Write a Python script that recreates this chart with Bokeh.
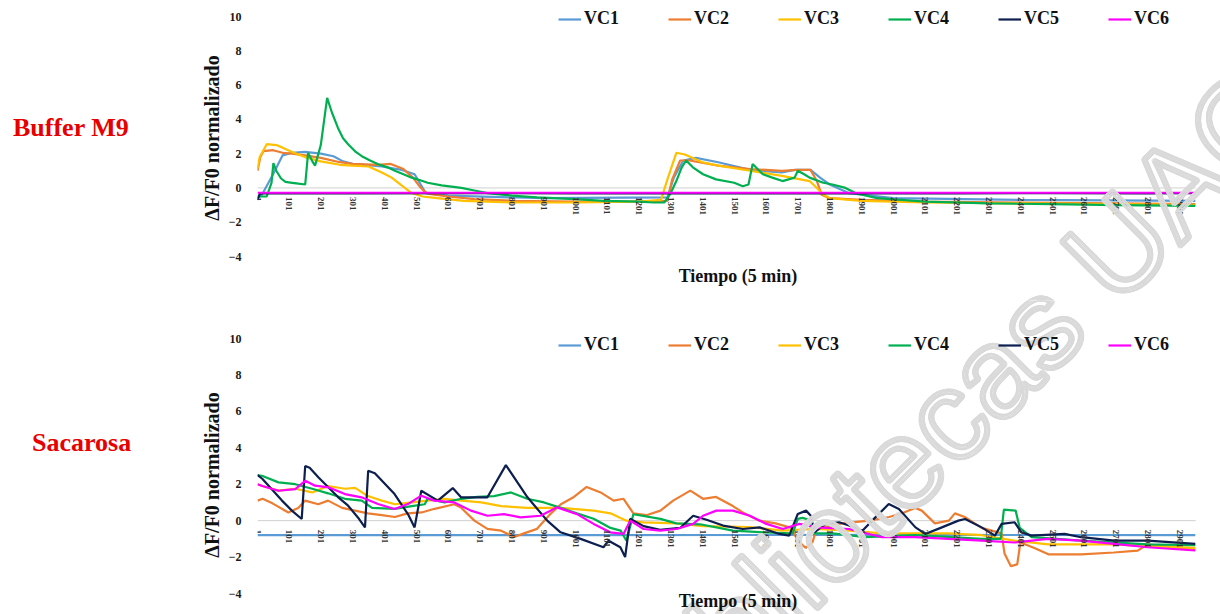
from bokeh.plotting import figure
from bokeh.models import Range1d, FixedTicker, Label, Div
from bokeh.layouts import column, row
from bokeh.embed import file_html
from bokeh.resources import INLINE
import math

# ---------------- data ----------------
series_names = ["VC1", "VC2", "VC3", "VC4", "VC5", "VC6"]
series_colors = ["#5b9bd5", "#ed7d31", "#ffc000", "#00b050", "#0d1f4f", "#ff00ff"]
y_ticks = [-4, -2, 0, 2, 4, 6, 8, 10]
x_tick_positions = list(range(1, 2951, 100))
panel_labels = ["Buffer M9", "Sacarosa"]
x_title = "Tiempo (5 min)"
y_title = "ΔF/F0 normalizado"

# Buffer M9 panel
buf_vc1_x = [1, 15, 50, 80, 110, 150, 200, 240, 270, 300, 392, 455, 495, 530, 600, 900, 1290, 1310, 1340, 1380, 1450, 1550, 1650, 1690, 1740, 1770, 1800, 1860, 2000, 2400, 2950]
buf_vc1_y = [-0.6, -0.4, 0.8, 1.9, 2.05, 2.1, 2.0, 1.85, 1.55, 1.4, 1.25, 1.05, 0.8, -0.3, -0.45, -0.6, -0.55, 0.6, 1.6, 1.75, 1.5, 1.05, 0.9, 1.05, 1.05, 0.6, 0.2, -0.3, -0.6, -0.7, -0.75]

buf_vc2_x = [1, 10, 20, 50, 80, 110, 150, 200, 260, 300, 380, 420, 460, 490, 510, 526, 540, 600, 683, 800, 1000, 1200, 1290, 1305, 1330, 1360, 1450, 1550, 1650, 1700, 1740, 1760, 1775, 1800, 1900, 2100, 2400, 2700, 2950]
buf_vc2_y = [1.0, 1.8, 2.15, 2.2, 2.05, 2.0, 1.9, 1.75, 1.5, 1.4, 1.35, 1.4, 1.1, 0.6, 0.1, -0.2, -0.35, -0.5, -0.65, -0.75, -0.8, -0.8, -0.75, 0.5, 1.6, 1.6, 1.3, 1.1, 1.0, 1.05, 1.05, 0.4, -0.4, -0.6, -0.7, -0.8, -0.85, -0.9, -0.95]

buf_vc3_x = [1, 8, 30, 60, 80, 110, 150, 200, 260, 300, 350, 392, 423, 464, 486, 520, 567, 650, 800, 1000, 1200, 1270, 1290, 1318, 1345, 1400, 1450, 1550, 1650, 1737, 1760, 1778, 1800, 1900, 2100, 2400, 2700, 2950]
buf_vc3_y = [1.15, 1.8, 2.55, 2.5, 2.35, 2.1, 1.8, 1.55, 1.35, 1.3, 1.25, 0.9, 0.6, 0.0, -0.3, -0.5, -0.6, -0.75, -0.85, -0.85, -0.8, -0.7, 0.5, 2.05, 1.95, 1.5, 1.3, 1.0, 0.7, 0.4, 0.0, -0.35, -0.6, -0.75, -0.85, -0.9, -0.95, -1.0]

buf_vc4_x = [1, 30, 45, 51, 60, 75, 89, 110, 130, 151, 155, 160, 175, 182, 200, 220, 235, 254, 270, 286,
             310, 329, 355, 379, 410, 433, 460, 486, 520, 536, 580, 642, 683, 724, 800, 880, 1000, 1090, 1200, 1246,
             1280, 1299, 1318, 1335, 1349, 1370, 1402, 1443, 1500, 1527, 1545, 1558, 1590, 1620, 1652, 1690, 1700, 1720, 1737, 1780,
             1809, 1850, 1881, 1950, 2100, 2300, 2500, 2700, 2950]
buf_vc4_y = [-0.5, -0.5, 0.3, 1.45, 1.0, 0.55, 0.35, 0.3, 0.25, 0.2, 1.0, 2.05, 1.5, 1.3, 2.5, 5.25, 4.4, 3.5, 2.9, 2.55,
             2.1, 1.85, 1.6, 1.4, 1.2, 1.0, 0.8, 0.6, 0.4, 0.3, 0.15, 0.0, -0.15, -0.3, -0.45, -0.55, -0.65, -0.75, -0.8, -0.85,
             -0.85, -0.35, 0.4, 1.2, 1.6, 1.2, 0.8, 0.5, 0.3, 0.1, 0.2, 1.4, 0.8, 0.6, 0.4, 0.6, 1.0, 0.8, 0.6, 0.3,
             0.2, 0.0, -0.3, -0.6, -0.8, -0.9, -0.95, -1.0, -1.05]

buf_vc5_x = [1, 8, 20, 300, 700, 1000, 1300, 1600, 1900, 2200, 2500, 2800, 2950]
buf_vc5_y = [-0.7, -0.35, -0.3, -0.32, -0.3, -0.32, -0.3, -0.32, -0.3, -0.32, -0.3, -0.32, -0.3]

buf_vc6_x = [1, 2950]
buf_vc6_y = [-0.28, -0.28]

# Sacarosa panel
sac_vc1_x = [1, 1000, 2000, 2950]
sac_vc1_y = [-0.8, -0.8, -0.78, -0.8]

sac_vc2_x = [1, 17, 48, 98, 129, 151, 192, 223, 267, 308, 348, 392, 433, 473, 517, 558, 620, 642, 683, 724,
             767, 808, 839, 880, 924, 955, 996, 1036, 1080, 1121, 1152, 1183, 1224, 1268, 1308, 1362, 1402, 1443, 1496, 1527,
             1580, 1630, 1680, 1700, 1725, 1746, 1760, 1778, 1840, 1925, 1987, 2028, 2069, 2090, 2131, 2175, 2194, 2225, 2278, 2341,
             2350, 2370, 2390, 2400, 2444, 2488, 2591, 2694, 2769, 2800, 2904, 2950]
sac_vc2_y = [1.1, 1.2, 0.95, 0.45, 0.7, 1.1, 0.9, 1.1, 0.7, 0.55, 0.4, 0.3, 0.2, 0.4, 0.45, 0.65, 0.9, 0.7, 0.0, -0.45,
             -0.55, -0.9, -0.7, -0.45, 0.4, 0.9, 1.3, 1.85, 1.55, 1.1, 1.2, 0.4, 0.3, 0.55, 1.1, 1.65, 1.2, 1.3, 0.8, 0.45,
             0.0, -0.15, -0.4, -1.1, -1.5, -1.2, -0.4, -0.35, -0.15, 0.0, 0.2, 0.4, 0.7, 0.55, -0.15, 0.0, 0.4, 0.2, -0.4, -0.7,
             -1.8, -2.5, -2.4, -1.2, -1.5, -1.85, -1.85, -1.75, -1.65, -1.3, -1.5, -1.55]

sac_vc3_x = [1, 17, 67, 120, 173, 223, 276, 308, 348, 392, 433, 486, 536, 589, 642, 705, 767, 849, 955, 1058,
             1111, 1161, 1215, 1318, 1402, 1549, 1652, 1756, 1862, 1965, 2175, 2278, 2381, 2488, 2694, 2800, 2950]
sac_vc3_y = [2.0, 1.9, 1.65, 1.75, 1.55, 1.9, 1.75, 1.8, 1.35, 1.1, 0.9, 1.0, 1.1, 1.2, 1.1, 1.0, 0.8, 0.7, 0.7, 0.55,
             0.4, 0.0, -0.1, -0.15, -0.3, -0.35, -0.55, -0.45, -0.55, -0.7, -0.7, -0.8, -1.1, -1.3, -1.3, -1.4, -1.5]

sac_vc4_x = [1, 17, 67, 120, 173, 223, 276, 329, 361, 433, 486, 527, 536, 589, 642, 692, 745, 798, 849, 902,
             955, 1005, 1058, 1111, 1143, 1161, 1183, 1268, 1318, 1393, 1496, 1599, 1684, 1700, 1715, 1735, 1746, 1809, 1912, 2069,
             2278, 2338, 2348, 2385, 2398, 2435, 2591, 2800, 2950]
sac_vc4_y = [2.5, 2.45, 2.1, 2.0, 1.75, 1.5, 1.2, 1.1, 0.7, 0.65, 0.8, 0.9, 1.2, 1.0, 1.2, 1.3, 1.35, 1.55, 1.2, 1.0,
             0.7, 0.4, 0.1, -0.4, -0.55, -1.1, 0.35, 0.1, -0.15, -0.2, -0.55, -0.65, -0.7, 0.1, 0.15, 0.05, -0.7, -0.7, -0.9, -0.8,
             -1.0, -1.0, 0.6, 0.55, -0.4, -0.9, -1.1, -1.3, -1.35]

sac_vc5_x = [1, 16, 78, 109, 140, 151, 165, 193, 255, 286, 320, 339, 349, 370, 432, 474, 495, 516, 568, 615,
             641, 724, 782, 850, 912, 954, 1017, 1089, 1105, 1142, 1157, 1173, 1215, 1267, 1330, 1371, 1413, 1465, 1527, 1580,
             1642, 1673, 1700, 1726, 1741, 1752, 1788, 1830, 1861, 1903, 1944, 1986, 2018, 2070, 2101, 2153, 2205, 2226, 2278, 2320,
             2341, 2382, 2403, 2435, 2539, 2591, 2695, 2800, 2950]
sac_vc5_y = [2.5, 2.3, 1.1, 0.55, 0.09, 3.0, 2.9, 2.37, 1.28, 0.82, 0.1, -0.37, 2.74, 2.6, 1.46, 0.36, -0.37, 1.64, 1.1, 1.79,
             1.28, 1.28, 3.05, 1.28, 0.0, -0.64, -1.0, -1.46, -1.1, -1.46, -2.0, 0.1, -0.3, -0.5, -0.4, 0.27, 0.05, -0.27, -0.46, -0.37,
             -0.73, -0.82, 0.37, 0.55, 0.27, -0.64, -0.18, -0.09, -0.27, -0.55, 0.18, 0.91, 0.64, -0.37, -0.73, -0.37, 0.0, 0.09, -0.37, -0.82,
             -0.18, -0.09, -0.64, -0.82, -0.73, -0.91, -1.1, -1.1, -1.28]

sac_vc6_x = [1, 16, 67, 120, 151, 182, 224, 276, 328, 380, 432, 474, 516, 557, 620, 672, 724, 776, 828, 891,
             943, 1006, 1058, 1110, 1152, 1173, 1215, 1267, 1319, 1371, 1402, 1444, 1496, 1549, 1601, 1653, 1705, 1757, 1861, 1965,
             2070, 2174, 2278, 2382, 2486, 2591, 2695, 2800, 2950]
sac_vc6_y = [2.0, 1.9, 1.64, 1.73, 2.19, 1.92, 1.83, 1.46, 1.28, 0.91, 0.64, 0.91, 1.37, 1.1, 1.0, 0.55, 0.27, 0.36, 0.18, 0.27,
             0.73, 0.36, -0.18, -0.64, -0.73, 0.0, -0.46, -0.55, -0.46, -0.18, 0.27, 0.55, 0.55, 0.27, -0.18, -0.46, -0.18, -0.37, -0.46, -0.91,
             -0.91, -1.0, -1.1, -1.2, -1.0, -1.1, -1.28, -1.46, -1.64]

buffer_series = [(buf_vc1_x, buf_vc1_y), (buf_vc2_x, buf_vc2_y), (buf_vc3_x, buf_vc3_y),
                 (buf_vc4_x, buf_vc4_y), (buf_vc5_x, buf_vc5_y), (buf_vc6_x, buf_vc6_y)]
sacarosa_series = [(sac_vc1_x, sac_vc1_y), (sac_vc2_x, sac_vc2_y), (sac_vc3_x, sac_vc3_y),
                   (sac_vc4_x, sac_vc4_y), (sac_vc5_x, sac_vc5_y), (sac_vc6_x, sac_vc6_y)]

# ---------------- layout constants ----------------
X0, X_LAST = 1, 2951          # category span of the data
PLOT_L, PLOT_R = 252, 1195    # page pixels of the data span
PX_PER_X = (PLOT_R - PLOT_L) / (X_LAST - X0)
PAGE_W = 1220
SIDE_W = 225                  # html column with the side titles
FIG_W = PAGE_W - SIDE_W
SERIF = "Liberation Serif"
WATERMARK = "Bibliotecas UAC"
WM_ANCHOR = (630, 730)        # page pixels, baseline start
WM_SIZE = 125
WM_GRAY = "#d9d9d9"


def side_div(height, label, label_left, label_baseline, ytitle_center):
    html = (
        f'<div style="position:relative;width:{SIDE_W}px;height:{height}px;overflow:hidden;">'
        f'<div style="position:absolute;left:{label_left}px;top:{label_baseline - 22}px;'
        f"font-family:'{SERIF}';font-weight:bold;font-size:26px;line-height:26px;"
        f'color:#e80000;white-space:nowrap;">{label}</div>'
        f'<div style="position:absolute;left:212px;top:{ytitle_center}px;'
        f'transform:translate(-50%,-50%) rotate(-90deg);'
        f"font-family:'{SERIF}';font-weight:bold;font-size:20px;line-height:22px;"
        f'color:#111111;white-space:nowrap;">{y_title}</div>'
        f'</div>'
    )
    return Div(text=html, width=SIDE_W, height=height, margin=(0, 0, 0, 0))


def add_watermark(p, wx, wy):
    common = dict(x=wx, y=wy, text=WATERMARK, angle=45, angle_units="deg",
                  text_align="left", text_baseline="alphabetic",
                  text_font="Liberation Sans", text_font_size=f"{WM_SIZE}px")
    try:
        # hollow (outlined) letters with a thick light-gray stroke
        for k in range(12):
            a = 2 * math.pi * k / 12
            p.add_layout(Label(x_offset=2.6 * math.cos(a), y_offset=2.6 * math.sin(a),
                               text_color="rgba(255,255,255,0)", text_outline_color=WM_GRAY,
                               **common))
    except Exception:
        for k in range(12):
            a = 2 * math.pi * k / 12
            p.add_layout(Label(x_offset=3 * math.cos(a), y_offset=3 * math.sin(a),
                               text_color="#e2e2e2", **common))
        p.add_layout(Label(text_color="white", text_alpha=0.9, **common))


def make_panel(series, height, page_top, y10_page, ym4_page, title_y, legend_y):
    scale = (ym4_page - y10_page) / 14.0
    y_top = 10 + (y10_page - page_top) / scale
    y_bot = -4 - (page_top + height - ym4_page) / scale
    x_end = X0 + (PAGE_W - PLOT_L) / PX_PER_X

    def dx(px):
        return X0 + (px - PLOT_L) / PX_PER_X

    def dy(py):
        return y_top - (py - page_top) / scale

    p = figure(width=FIG_W, height=height, x_range=Range1d(X0, x_end), y_range=Range1d(y_bot, y_top),
               output_backend="svg", toolbar_location=None,
               min_border_left=PLOT_L - SIDE_W, min_border_right=0,
               min_border_top=0, min_border_bottom=0, margin=(0, 0, 0, 0))
    p.outline_line_color = None
    p.xgrid.visible = False
    p.ygrid.visible = False
    p.background_fill_color = "white"
    p.border_fill_color = "white"

    # zero line across the data span
    p.line([X0, X_LAST], [0, 0], line_color="#d0d0d0", line_width=1)

    for (xs, ys), name, col in zip(series, series_names, series_colors):
        p.line(xs, ys, line_color=col, line_width=2.2, legend_label=name)

    xa = p.xaxis[0]
    xa.fixed_location = 0
    xa.ticker = FixedTicker(ticks=x_tick_positions)
    xa.axis_line_color = None
    xa.major_tick_line_color = None
    xa.minor_tick_line_color = None
    xa.major_label_orientation = "vertical"
    xa.major_label_standoff = 3
    xa.major_label_text_font = SERIF
    xa.major_label_text_font_style = "bold"
    xa.major_label_text_font_size = "9px"
    xa.major_label_text_color = "#333333"

    ya = p.yaxis[0]
    ya.ticker = FixedTicker(ticks=y_ticks)
    ya.axis_line_color = None
    ya.major_tick_line_color = None
    ya.minor_tick_line_color = None
    ya.major_label_standoff = 10
    ya.major_label_text_font = SERIF
    ya.major_label_text_font_style = "bold"
    ya.major_label_text_font_size = "12px"
    ya.major_label_text_color = "#1a1a1a"

    frame_h = height
    lg = p.legend[0]
    lg.orientation = "horizontal"
    lg.location = (301, frame_h - (legend_y - page_top) - 10)
    lg.label_text_font = SERIF
    lg.label_text_font_style = "bold"
    lg.label_text_font_size = "18px"
    lg.label_text_color = "#111111"
    lg.glyph_width = 23
    lg.glyph_height = 20
    lg.label_height = 20
    lg.label_standoff = 3
    lg.spacing = 49
    lg.padding = 0
    lg.margin = 0
    lg.border_line_color = None
    lg.background_fill_alpha = 0

    add_watermark(p, dx(WM_ANCHOR[0]), dy(WM_ANCHOR[1]))

    p.add_layout(Label(x=dx(735), y=dy(title_y), text=x_title, text_align="center",
                       text_baseline="middle", text_font=SERIF, text_font_style="bold",
                       text_font_size="18px", text_color="#111111"))
    return p


top_fig = make_panel(buffer_series, 300, 0, 16, 256, 275, 19)
bot_fig = make_panel(sacarosa_series, 314, 300, 338, 593, 600, 345)

top_row = row(side_div(300, panel_labels[0], 13, 137, 138), top_fig, spacing=0)
bot_row = row(side_div(314, panel_labels[1], 32, 152, 175), bot_fig, spacing=0)

layout = column(top_row, bot_row, spacing=0)
open("out.html", "w").write(file_html(layout, INLINE))
